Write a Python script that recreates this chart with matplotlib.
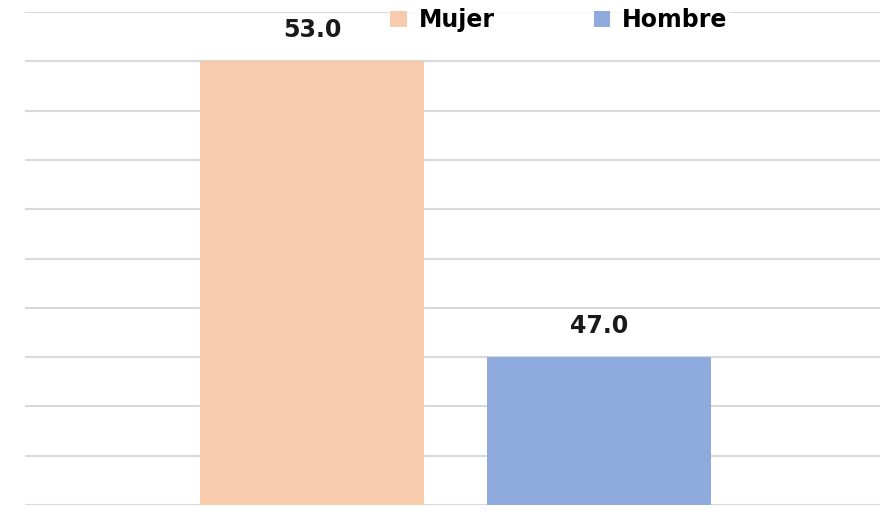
import matplotlib.pyplot as plt
from matplotlib.patches import Patch

# Data
groups = ['Mujer', 'Hombre']
values = [53.0, 47.0]
colors = ['#F8CBAD', '#8FAADC']
y_min, y_max = 44, 54

fig = plt.figure(figsize=(8.8, 5.29), dpi=100)
ax = fig.add_axes([25 / 880, 24 / 529, 1 - 25 / 880, (505 - 12) / 529])

pos = list(range(len(groups)))
bars = ax.bar(pos, values, width=0.78, color=colors, zorder=2)

# Value labels above the bars
for b, v in zip(bars, values):
    ax.annotate(f'{v:.1f}', (b.get_x() + b.get_width() / 2, v),
                xytext=(0, 14), textcoords='offset points',
                ha='center', va='bottom', fontsize=17, fontweight='bold',
                color='#1a1a1a')

ax.set_xlim(-1.0, 1.98)
ax.set_ylim(y_min, y_max)
ax.set_yticks(range(y_min, y_max + 1))
ax.grid(axis='y', color='#d9d9d9', linewidth=1.5)
ax.set_axisbelow(True)
ax.tick_params(left=False, bottom=False, labelleft=False, labelbottom=False)
for s in ax.spines.values():
    s.set_visible(False)

handles = [Patch(facecolor=c, edgecolor='none') for c in colors]
fig.legend(handles, groups, loc='center', bbox_to_anchor=(0.635, 0.962), ncol=2,
           frameon=True, facecolor='white', edgecolor='none', fancybox=False,
           prop={'weight': 'bold', 'size': 17}, handlelength=0.7, handleheight=0.7,
           handletextpad=0.5, columnspacing=4.2, borderpad=0.1)

plt.savefig('out.png', dpi=100)
